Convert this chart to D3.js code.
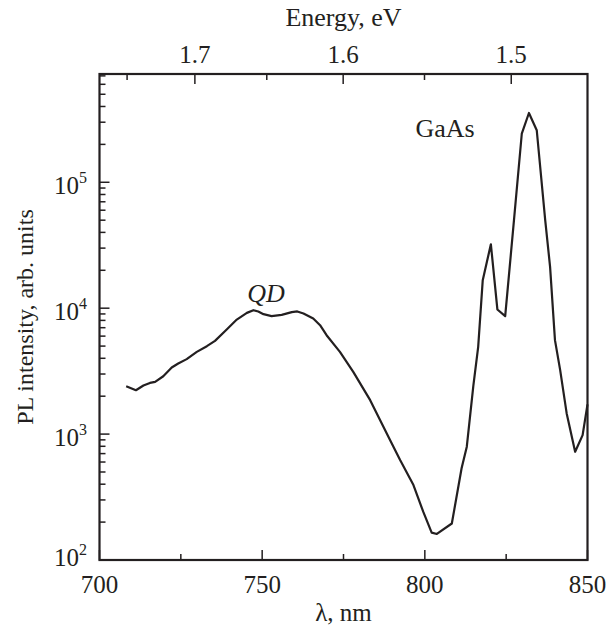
<!DOCTYPE html>
<html><head><meta charset="utf-8">
<script src="https://cdn.jsdelivr.net/npm/d3@7"></script>
<style>body{margin:0;background:#fff}svg{display:block}text{font-family:"Liberation Serif","Times New Roman",serif;fill:#231f20}</style>
</head><body>
<svg id="c" width="616" height="635"></svg>
<script>
const wavelength = [708.2,711.2,713.5,715.5,717.1,719.6,722.2,724.2,726.8,729.9,733.0,735.5,739.1,742.2,745.3,747.3,748.8,750.4,752.9,756.0,759.1,760.8,762.7,765.7,767.8,769.8,773.9,778.0,783.2,788.8,792.4,796.5,799.5,802.1,803.7,808.3,811.3,812.9,814.9,816.4,817.8,820.3,822.3,824.7,827.4,829.8,832.0,834.4,837.0,838.5,840.0,841.6,843.6,846.2,848.5,850.0];
const intensity = [2400,2230,2430,2550,2600,2880,3380,3640,3940,4500,4990,5500,6770,8120,9180,9640,9410,8960,8640,8850,9300,9420,9080,8280,7330,6100,4500,3120,1860,953,622,394,242,165,161,195,535,794,2400,4930,16700,32200,9770,8640,50000,243000,355000,259000,50000,21300,5570,3220,1460,724,982,1720];
const xTicks = [700,750,800,850];
const xMinor = [725,775,825];
const eTicks = [1.7,1.6,1.5];
const eMinor = [1.75,1.65,1.55];
const yDecades = [2,3,4,5];
const hc = 1239.84;

const L = 99.5, R = 587.5, T = 74, B = 560;
const col = "#231f20";
const FS = 25;
const svg = d3.select("#c");
const x = d3.scaleLinear().domain([700,850]).range([L,R]);
const y = d3.scaleLog().domain([100, Math.pow(10,5.86)]).range([B,T]);

const yMinor = [];
for (let e = 2; e <= 5; e++) for (let m = 2; m <= 9; m++) { const v = m*Math.pow(10,e); if (v <= y.domain()[1]) yMinor.push(v); }

const g = svg.append("g");
g.selectAll(".ym").data(yMinor).join("line")
  .attr("x1",L).attr("x2",L+6).attr("y1",d=>y(d)).attr("y2",d=>y(d))
  .attr("stroke",col).attr("stroke-width",1.5);
g.selectAll(".yM").data(yDecades).join("line")
  .attr("x1",L).attr("x2",L+10).attr("y1",d=>y(Math.pow(10,d))).attr("y2",d=>y(Math.pow(10,d)))
  .attr("stroke",col).attr("stroke-width",1.5);
const yl = g.selectAll(".yl").data(yDecades).join("text")
  .attr("x",87).attr("y",d=>y(Math.pow(10,d)) + (d===2 ? 6 : 12)).attr("text-anchor","end").attr("font-size",FS);
yl.append("tspan").text("10");
yl.append("tspan").attr("font-size",16).attr("dy",-11).text(d=>d);

g.selectAll(".xM").data(xTicks).join("line")
  .attr("x1",d=>x(d)).attr("x2",d=>x(d)).attr("y1",B).attr("y2",B-10)
  .attr("stroke",col).attr("stroke-width",1.5);
g.selectAll(".xm").data(xMinor).join("line")
  .attr("x1",d=>x(d)).attr("x2",d=>x(d)).attr("y1",B).attr("y2",B-6)
  .attr("stroke",col).attr("stroke-width",1.5);
g.selectAll(".xl").data(xTicks).join("text")
  .attr("x",d=>x(d)).attr("y",B+33).attr("text-anchor","middle").attr("font-size",FS).text(d=>d);

g.selectAll(".eM").data(eTicks).join("line")
  .attr("x1",d=>x(hc/d)).attr("x2",d=>x(hc/d)).attr("y1",T).attr("y2",T+10)
  .attr("stroke",col).attr("stroke-width",1.5);
g.selectAll(".em").data(eMinor).join("line")
  .attr("x1",d=>x(hc/d)).attr("x2",d=>x(hc/d)).attr("y1",T).attr("y2",T+6)
  .attr("stroke",col).attr("stroke-width",1.5);
g.selectAll(".el").data(eTicks).join("text")
  .attr("x",d=>x(hc/d)).attr("y",T-11).attr("text-anchor","middle").attr("font-size",FS).text(d=>d.toFixed(1));

g.append("rect").attr("x",L).attr("y",T).attr("width",R-L).attr("height",B-T)
  .attr("fill","none").attr("stroke",col).attr("stroke-width",2.2);

const pts = wavelength.map((w,i)=>[w,intensity[i]]);
g.append("path").datum(pts)
  .attr("d", d3.line().x(d=>x(d[0])).y(d=>y(d[1])).curve(d3.curveLinear))
  .attr("fill","none").attr("stroke",col).attr("stroke-width",2.2).attr("stroke-linejoin","round");

g.append("text").attr("x",(L+R)/2).attr("y",621).attr("text-anchor","middle").attr("font-size",FS).text("λ, nm");
g.append("text").attr("x",(L+R)/2).attr("y",26).attr("text-anchor","middle").attr("font-size",FS+1).text("Energy, eV");
g.append("text").attr("transform",`translate(33,317) rotate(-90)`).attr("text-anchor","middle").attr("font-size",24).text("PL intensity, arb. units");
g.append("text").attr("x",445).attr("y",137).attr("text-anchor","middle").attr("font-size",FS+1).text("GaAs");
g.append("text").attr("x",266).attr("y",302).attr("text-anchor","middle").attr("font-size",FS+1).attr("font-style","italic").text("QD");
</script>
</body></html>
